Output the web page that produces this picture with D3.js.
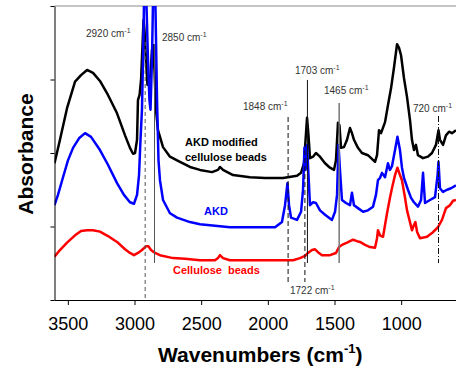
<!DOCTYPE html>
<html>
<head>
<meta charset="utf-8">
<script src="https://cdn.jsdelivr.net/npm/d3@7"></script>
<style>
  body { margin: 0; background: #fff; }
  svg { display: block; font-family: "Liberation Sans", Arial, sans-serif; }
</style>
</head>
<body>
<svg id="chart" width="456" height="370"></svg>
<script>
// AKD modified cellulose beads (black)
const modifiedWn = [3600,3559,3506,3446,3401,3356,3311,3259,3199,3131,3071,3034,3011,2996,2981,2974,2962,2951,2940,2932,2925,2914,2903,2891,2880,2869,2861,2850,2839,2824,2786,2734,2681,2584,2509,2419,2374,2359,2336,2261,2134,2021,1886,1781,1751,1729,1717,1706,1695,1684,1661,1639,1609,1571,1534,1504,1489,1474,1463,1451,1429,1406,1384,1369,1354,1324,1294,1249,1196,1181,1166,1151,1121,1099,1076,1054,1031,1016,1001,979,956,934,919,904,889,874,836,799,769,739,720,709,686,664,641,619,589];
const modifiedAbs = [1.86,2.18,2.61,2.97,3.06,3.13,3.09,2.98,2.79,2.54,2.24,2.07,1.99,2.00,2.18,2.72,2.79,2.99,3.47,3.81,3.67,3.27,2.93,2.99,3.06,3.40,3.47,3.13,2.59,2.31,2.08,1.95,1.90,1.81,1.77,1.74,1.77,1.81,1.77,1.70,1.67,1.66,1.66,1.69,1.73,1.86,2.18,2.48,2.24,1.93,1.95,2.00,1.95,1.86,1.80,1.77,1.90,2.41,2.38,2.07,2.08,2.18,2.34,2.27,2.18,2.07,2.00,1.97,1.88,1.97,2.31,2.27,2.42,2.65,2.88,3.16,3.48,3.43,3.33,3.02,2.76,2.45,2.18,2.04,2.11,1.97,1.93,1.95,2.00,2.11,2.31,2.18,2.11,2.24,2.29,2.27,2.31];

// AKD (blue)
const akdWn = [3600,3574,3536,3499,3461,3416,3371,3326,3259,3199,3131,3079,3034,3004,2981,2966,2955,2944,2936,2929,2921,2910,2899,2888,2880,2869,2861,2854,2843,2831,2820,2809,2786,2734,2681,2584,2509,2396,2284,2059,1946,1894,1871,1853,1841,1826,1781,1751,1736,1725,1717,1706,1695,1684,1661,1639,1609,1571,1519,1496,1481,1470,1459,1444,1414,1384,1369,1354,1324,1286,1249,1211,1189,1174,1159,1144,1121,1099,1084,1069,1046,1028,1009,994,979,949,926,904,874,851,836,821,784,746,727,720,709,686,656,626,589];
const akdAbs = [1.29,1.43,1.67,1.90,2.07,2.20,2.27,2.22,2.04,1.84,1.59,1.43,1.33,1.31,1.43,1.70,2.18,2.59,3.27,4.01,4.35,4.01,3.27,2.72,2.59,3.27,4.08,4.35,4.01,2.72,1.90,1.63,1.36,1.18,1.12,1.06,1.03,1.01,0.99,0.99,0.99,1.06,1.29,1.59,1.29,1.12,1.09,1.20,1.50,2.07,1.77,2.11,1.70,1.29,1.33,1.32,1.22,1.16,1.09,1.20,1.43,2.11,1.77,1.36,1.32,1.29,1.46,1.29,1.25,1.20,1.22,1.27,1.43,1.63,1.66,1.73,1.67,1.86,1.77,1.82,2.04,2.22,2.04,1.80,1.66,1.50,1.39,1.33,1.27,1.36,1.73,1.32,1.36,1.40,1.70,1.88,1.52,1.47,1.50,1.52,1.56];

// Cellulose beads (red)
const celluloseWn = [3600,3559,3506,3446,3401,3356,3311,3259,3199,3131,3071,3034,3004,2974,2944,2914,2895,2876,2846,2809,2711,2621,2509,2396,2374,2359,2336,2284,2059,1811,1759,1721,1699,1669,1646,1624,1594,1534,1489,1466,1444,1406,1361,1331,1309,1271,1234,1196,1181,1174,1159,1136,1121,1106,1084,1069,1046,1028,1009,994,971,956,934,919,904,893,881,859,806,769,724,694,664,634,611,589];
const celluloseAbs = [0.59,0.68,0.78,0.88,0.94,0.95,0.95,0.93,0.87,0.79,0.69,0.64,0.61,0.64,0.68,0.73,0.73,0.68,0.64,0.61,0.57,0.56,0.54,0.54,0.57,0.61,0.57,0.54,0.54,0.54,0.57,0.60,0.64,0.68,0.69,0.65,0.61,0.61,0.64,0.72,0.75,0.78,0.82,0.80,0.79,0.75,0.72,0.71,0.84,0.95,0.88,0.86,1.02,1.18,1.39,1.52,1.70,1.80,1.70,1.63,1.39,1.22,1.06,0.95,1.02,1.06,0.93,0.84,0.86,0.91,0.99,1.09,1.25,1.29,1.35,1.36];

// band markers
const bandWn = [2920, 2850, 1848, 1722, 1703, 1465, 720];
const xTicks = [3500, 3000, 2500, 2000, 1500, 1000];
const yTicks = [0, 1, 2, 3, 4];

const svg = d3.select("#chart");
const x = d3.scaleLinear().domain([3600, 600]).range([54.5, 454.5]);
const y = d3.scaleLinear().domain([0, 4]).range([300, 6]);

// plot clip
svg.append("defs").append("clipPath").attr("id", "clip")
  .append("rect").attr("x", 54.5).attr("y", 6).attr("width", 402).attr("height", 294);

// top border
svg.append("line").attr("x1", 54.5).attr("x2", 456).attr("y1", 6).attr("y2", 6)
  .attr("stroke", "#8c8c8c").attr("stroke-width", 1.2);

const zip = (a, b) => a.map((w, i) => [w, b[i]]);
const line = d3.line().x(d => x(d[0])).y(d => y(d[1]));

const plot = svg.append("g").attr("clip-path", "url(#clip)");
[
  { data: zip(celluloseWn, celluloseAbs), color: "#ff0000" },
  { data: zip(modifiedWn, modifiedAbs), color: "#000000" },
  { data: zip(akdWn, akdAbs), color: "#0000ff" }
].forEach(s => {
  plot.append("path")
    .attr("d", line(s.data))
    .attr("fill", "none")
    .attr("stroke", s.color)
    .attr("stroke-width", 2.5)
    .attr("stroke-linejoin", "round");
});

// marker lines (pixel extents)
const markerStyle = {
  2920: { top: 42, bottom: 298, color: "#555", dash: "4,3", w: 1 },
  2850: { top: 44, bottom: 263, color: "#555", dash: null, w: 1 },
  1848: { top: 117, bottom: 285, color: "#111", dash: "5,3", w: 1 },
  1722: { top: 150, bottom: 282, color: "#111", dash: "5,3", w: 1 },
  1703: { top: 80, bottom: 263, color: "#111", dash: null, w: 1 },
  1465: { top: 103, bottom: 263, color: "#777", dash: null, w: 1.5 },
  720: { top: 116, bottom: 263, color: "#111", dash: "6,2,1,2", w: 1 }
};
bandWn.forEach(wn => {
  const m = markerStyle[wn];
  svg.append("line")
    .attr("x1", x(wn)).attr("x2", x(wn))
    .attr("y1", m.top).attr("y2", m.bottom)
    .attr("stroke", m.color).attr("stroke-width", m.w)
    .attr("stroke-dasharray", m.dash);
});

// marker labels
const labelPos = {
  2920: [86, 37], 2850: [162, 41], 1848: [243, 110], 1722: [290, 294],
  1703: [295, 74], 1465: [324, 94], 720: [413, 112]
};
bandWn.forEach(wn => {
  const p = labelPos[wn];
  const t = svg.append("text").attr("x", p[0]).attr("y", p[1])
    .attr("font-size", 10).attr("fill", "#333");
  t.append("tspan").text(wn + " cm");
  t.append("tspan").attr("font-size", 7).attr("dy", -4).text("-1");
});

// series labels
const seriesText = svg.append("g").attr("font-weight", "bold").attr("font-size", 11);
seriesText.append("text").attr("x", 185).attr("y", 146).text("AKD modified");
seriesText.append("text").attr("x", 185).attr("y", 161).text("cellulose beads");
seriesText.append("text").attr("x", 204).attr("y", 215).attr("fill", "#0000ff").text("AKD");
seriesText.append("text").attr("x", 173).attr("y", 274).attr("fill", "#ff0000")
  .style("white-space", "pre").text("Cellulose  beads");

// axes
const xAxis = svg.append("g").attr("transform", "translate(0,300)")
  .call(d3.axisBottom(x).tickValues(xTicks).tickFormat(d3.format("d"))
    .tickSize(5).tickSizeOuter(0).tickPadding(12));
xAxis.select(".domain").attr("d", "M54.5,0.5H456");
xAxis.selectAll("text").attr("font-size", 18).attr("font-family", "Liberation Sans, Arial, sans-serif").attr("fill", "#000");
xAxis.selectAll("line").attr("stroke", "#000");

const yAxis = svg.append("g").attr("transform", "translate(54.5,0)")
  .call(d3.axisLeft(y).tickValues(yTicks).tickSize(4).tickSizeOuter(0).tickFormat(""));
yAxis.selectAll("line").attr("stroke", "#000");

// axis titles
const xt = svg.append("text").attr("x", 158).attr("y", 362)
  .attr("font-size", 21).attr("font-weight", "bold");
xt.append("tspan").text("Wavenumbers (cm");
xt.append("tspan").attr("font-size", 13).attr("dy", -9).text("-1");
xt.append("tspan").attr("dy", 9).text(")");

svg.append("text")
  .attr("transform", "translate(33,154) rotate(-90)")
  .attr("text-anchor", "middle")
  .attr("font-size", 21).attr("font-weight", "bold")
  .text("Absorbance");
</script>
</body>
</html>
